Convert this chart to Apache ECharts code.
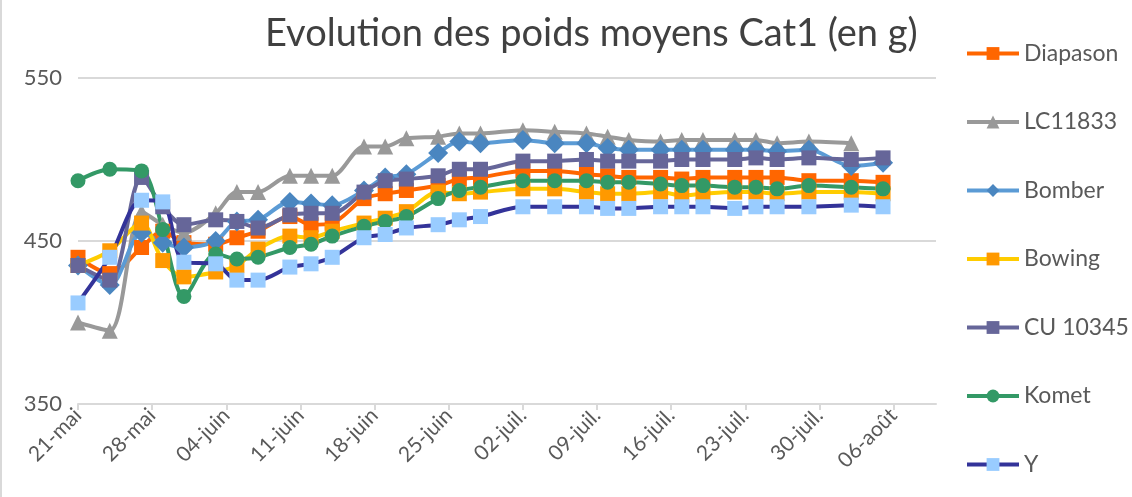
<!DOCTYPE html>
<html>
<head>
<meta charset="utf-8">
<script src="https://cdn.jsdelivr.net/npm/echarts@6/dist/echarts.min.js"></script>
<style>
  html, body { margin: 0; padding: 0; background: #fff; }
  #myLineChart { width: 1132px; height: 497px; box-sizing: border-box; border-left: 2px solid #d9d9d9; }
</style>
</head>
<body>
<div id="myLineChart"></div>
<script>
// dates des pesées
var dates = ['2018-05-21', '2018-05-24', '2018-05-27', '2018-05-29', '2018-05-31', '2018-06-03', '2018-06-05',
    '2018-06-07', '2018-06-10', '2018-06-12', '2018-06-14', '2018-06-17', '2018-06-19', '2018-06-21',
    '2018-06-24', '2018-06-26', '2018-06-28', '2018-07-02', '2018-07-05', '2018-07-08', '2018-07-10',
    '2018-07-12', '2018-07-15', '2018-07-17', '2018-07-19', '2018-07-22', '2018-07-24', '2018-07-26',
    '2018-07-29', '2018-08-02', '2018-08-05'];

var diapason = [440, 430, 446, 456, 449, 448, 452, 456, 465, 460, 461, 476, 479, 481, 484, 488, 489, 493, 493, 491, 490, 489, 489, 488, 489, 489, 489, 489, 487, 487, 486];
var lc11833  = [400, 395, 468, 460, 455, 467, 480, 480, 490, 490, 490, 508, 508, 513, 514, 516, 516, 518, 517, 516, 514, 512, 511, 512, 512, 512, 512, 510, 511, 510, null];
var bomber   = [435, 423, 455, 449, 446, 450, 462, 463, 474, 473, 472, 481, 489, 491, 504, 511, 510, 512, 510, 510, 507, 506, 506, 506, 506, 506, 506, 505, 506, 496, 498];
var bowing   = [435, 444, 461, 438, 428, 431, 435, 445, 453, 452, 456, 461, 464, 468, 480, 479, 480, 482, 482, 480, 479, 479, 480, 478, 479, 480, 480, 479, 480, 480, 479];
var cu10345  = [435, 426, 489, 471, 460, 463, 462, 458, 466, 467, 467, 480, 487, 488, 490, 494, 494, 499, 499, 500, 499, 499, 499, 500, 500, 500, 501, 500, 501, 500, 501];
var komet    = [487, 494, 493, 457, 416, 442, 439, 440, 446, 448, 453, 459, 462, 465, 476, 481, 483, 487, 487, 487, 486, 486, 485, 484, 484, 483, 483, 482, 484, 483, 482];
var yLine    = [412, 440, 475, 474, 437, 436, 426, 426, 434, 436, 440, 452, 454, 458, 460, 463, 465, 471, 471, 471, 470, 470, 471, 471, 471, 470, 471, 471, 471, 472, 471];

// graduations de l'axe des dates (tous les 7 jours)
var tickLabels = ['21-mai', '28-mai', '04-juin', '11-juin', '18-juin', '25-juin', '02-juil.', '09-juil.', '16-juil.', '23-juil.', '30-juil.', '06-août'];
var yTicks = [350, 450, 550];

function jour(d) {
    return Math.round((Date.parse(d) - Date.parse(dates[0])) / 86400000);
}
function points(vals) {
    return dates.map(function (d, i) { return [jour(d), vals[i]]; });
}
var tickDays = tickLabels.map(function (t, i) { return i * 7; });

var myChart = echarts.init(document.getElementById("myLineChart"));

function serie(name, vals, lineColor, markColor, symbol, size) {
    return {
        name: name,
        type: 'line',
        smooth: 0.3,
        symbol: symbol,
        symbolSize: size,
        data: points(vals),
        lineStyle: { width: 4, color: lineColor },
        itemStyle: { color: markColor },
        emphasis: { disabled: true }
    };
}

var option = {
    animation: false,
    title: {
        text: 'Evolution des poids moyens Cat1 (en g)',
        left: 258,
        top: 10,
        textStyle: { fontFamily: 'Lato', fontWeight: 'normal', fontSize: 38, color: '#404040' }
    },
    legend: {
        orient: 'vertical',
        left: 958,
        top: 37,
        itemWidth: 52,
        itemHeight: 16,
        itemGap: 45.5,
        lineStyle: { width: 4 },
        textStyle: { fontFamily: 'Lato', fontSize: 23, color: '#595959' },
        data: ['Diapason', 'LC11833', 'Bomber', 'Bowing', 'CU 10345', 'Komet', 'Y']
    },
    grid: {
        left: 76,
        right: 196,
        top: 78,
        bottom: 93
    },
    xAxis: {
        type: 'value',
        min: 0,
        max: 81,
        interval: 7,
        splitLine: { show: false },
        axisLine: { lineStyle: { color: '#d9d9d9', width: 2 } },
        axisTick: { show: true, length: 6, customValues: tickDays, lineStyle: { color: '#d9d9d9', width: 2 } },
        axisLabel: {
            customValues: tickDays,
            rotate: 45,
            margin: 8,
            fontFamily: 'Lato',
            fontSize: 21,
            color: '#595959',
            formatter: function (v) { return tickLabels[Math.round(v / 7)] || ''; }
        }
    },
    yAxis: {
        type: 'value',
        min: yTicks[0],
        max: yTicks[yTicks.length - 1],
        interval: 100,
        axisLine: { show: false },
        axisTick: { show: false },
        splitLine: { lineStyle: { color: '#d9d9d9', width: 2 } },
        axisLabel: { margin: 16, fontFamily: 'Lato', fontSize: 22, color: '#595959' }
    },
    series: [
        serie('Diapason', diapason, '#ff6600', '#ff6600', 'rect', 15),
        serie('LC11833', lc11833, '#999999', '#999999', 'triangle', 16),
        serie('Bomber', bomber, '#5b9bd5', '#4a86c0', 'diamond', 20),
        serie('Bowing', bowing, '#ffcc00', '#ff9900', 'rect', 15),
        serie('CU 10345', cu10345, '#666699', '#666699', 'rect', 15),
        serie('Komet', komet, '#339966', '#339966', 'circle', 15),
        serie('Y', yLine, '#333399', '#99ccff', 'rect', 15)
    ]
};

myChart.setOption(option);

window.onresize = function () {
    myChart.resize();
};
</script>
</body>
</html>
